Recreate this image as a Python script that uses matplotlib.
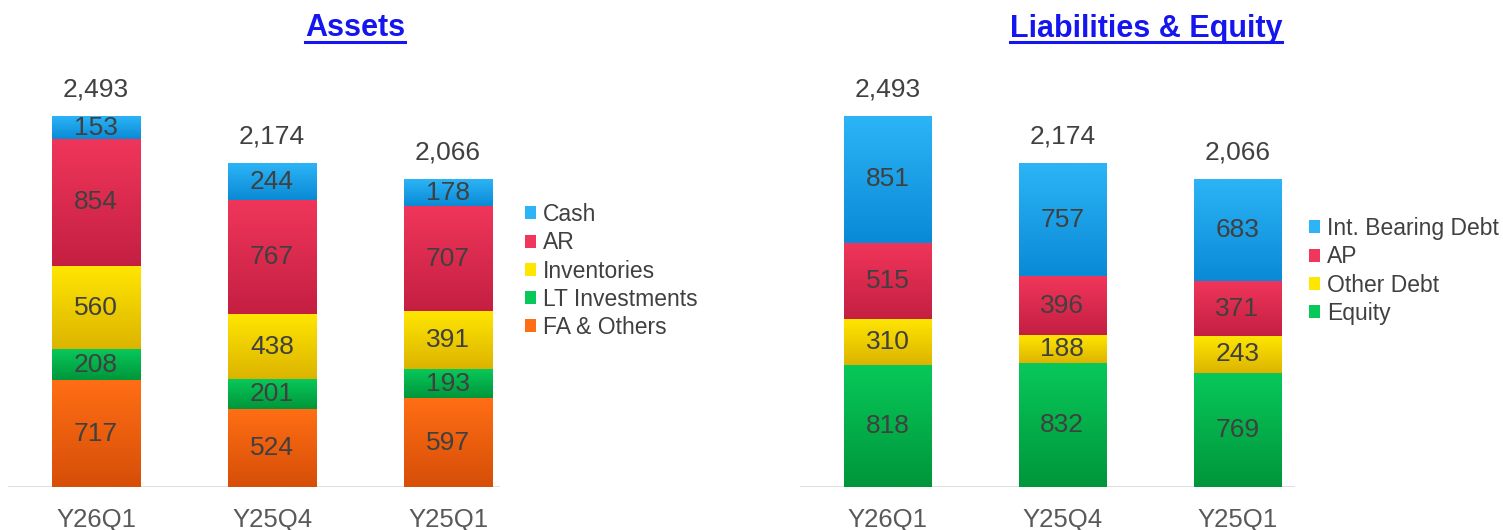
import matplotlib
matplotlib.use("Agg")
import matplotlib.pyplot as plt
import numpy as np
from matplotlib.patches import Patch
from matplotlib.colors import to_rgb
from matplotlib.lines import Line2D

plt.rcParams['font.family'] = ['Liberation Sans', 'DejaVu Sans']

# ---------------- data ----------------
periods = ["Y26Q1", "Y25Q4", "Y25Q1"]

asset_names = ["FA & Others", "LT Investments", "Inventories", "AR", "Cash"]
fa_others = [717, 524, 597]
lt_invest = [208, 201, 193]
inventories = [560, 438, 391]
ar = [854, 767, 707]
cash = [153, 244, 178]
asset_totals = [2493, 2174, 2066]

liab_names = ["Equity", "Other Debt", "AP", "Int. Bearing Debt"]
equity = [818, 832, 769]
other_debt = [310, 188, 243]
ap = [515, 396, 371]
ib_debt = [851, 757, 683]
liab_totals = [2493, 2174, 2066]

# gradient colours (top, bottom)
C_BLUE = ("#2cb4f6", "#0a8ad6")
C_RED = ("#f0365a", "#c41f42")
C_YEL = ("#ffe600", "#dcb400")
C_GRN = ("#08c85a", "#00963a")
C_ORG = ("#ff6e14", "#d64e08")

TXT = "#404040"
NUM_FS = 19

W, H = 1503, 530
fig = plt.figure(figsize=(W / 100, H / 100), dpi=100)


def px_axes(x0, x1, ybase, ytop):
    return fig.add_axes([x0 / W, (H - ybase) / H, (x1 - x0) / W, (ybase - ytop) / H])


def grad_fill(ax, patch, cols):
    x, y = patch.get_x(), patch.get_y()
    w, h = patch.get_width(), patch.get_height()
    top = np.array(to_rgb(cols[0]))
    bot = np.array(to_rgb(cols[1]))
    t = np.linspace(0, 1, 64)[:, None]
    img = top * (1 - t) + bot * t  # row 0 = top
    img = img[:, None, :]
    ax.imshow(img, extent=(x, x + w, y, y + h), origin='upper', aspect='auto',
              interpolation='bilinear', zorder=2)


def draw_stack(ax, series, colors, totals, xlim):
    xs = np.arange(len(periods))
    bottom = np.zeros(len(periods))
    for vals, cols in zip(series, colors):
        bars = ax.bar(xs, vals, 0.5, bottom=bottom, color='none', edgecolor='none', zorder=3)
        for b, v in zip(bars, vals):
            grad_fill(ax, b, cols)
            ax.text(b.get_x() + b.get_width() / 2, b.get_y() + b.get_height() / 2,
                    f"{v:,}", ha='center', va='center', fontsize=NUM_FS, color=TXT, zorder=4)
        bottom = bottom + np.array(vals)
    for x, top, tot in zip(xs, bottom, totals):
        ax.text(x, top + 180, f"{tot:,}", ha='center', va='center', fontsize=NUM_FS, color=TXT)
    ax.set_xlim(*xlim)
    ax.set_ylim(0, 3000)
    for s in ax.spines.values():
        s.set_visible(False)
    ax.axhline(0, color="#d9d9d9", lw=1.2, zorder=1)
    ax.set_yticks([])
    ax.set_xticks(xs)
    ax.set_xticklabels(periods, fontsize=18.5, color="#595959")
    ax.tick_params(axis='x', length=0, pad=15)


axL = px_axes(8, 500, 487, 40.6)
draw_stack(axL, [fa_others, lt_invest, inventories, ar, cash],
           [C_ORG, C_GRN, C_YEL, C_RED, C_BLUE], asset_totals, (-0.5, 2.295))

axR = px_axes(800, 1295, 487, 40.6)
draw_stack(axR, [equity, other_debt, ap, ib_debt],
           [C_GRN, C_YEL, C_RED, C_BLUE], liab_totals, (-0.5, 2.33))


# legends
def legend(names, colors, x, y):
    handles = [Patch(facecolor=c[0], edgecolor='none') for c in colors]
    leg = fig.legend(handles[::-1], names[::-1], loc='upper left',
                     bbox_to_anchor=(x / W, 1 - y / H), frameon=False,
                     fontsize=16.5, handlelength=0.5, handleheight=0.5,
                     handletextpad=0.3, labelspacing=0.23, borderaxespad=0, borderpad=0)
    for t in leg.get_texts():
        t.set_color(TXT)


legend(asset_names, [C_ORG, C_GRN, C_YEL, C_RED, C_BLUE], 525, 203)
legend(liab_names, [C_GRN, C_YEL, C_RED, C_BLUE], 1309, 217)

# titles with underline
titles = [("Assets", 355), ("Liabilities & Equity", 1146)]
title_objs = []
for txt, xc in titles:
    t = fig.text(xc / W, 1 - 28.5 / H, txt, ha='center', va='center', fontsize=22,
                 fontweight='bold', color="#1515f0")
    title_objs.append(t)

fig.canvas.draw()
r = fig.canvas.get_renderer()
for t in title_objs:
    bb = t.get_window_extent(r)
    yline = bb.y0 + 1.5
    fig.add_artist(Line2D([bb.x0 / W, bb.x1 / W], [yline / H, yline / H],
                          transform=fig.transFigure, color="#1515f0", lw=2.2))

fig.savefig("out.png", dpi=100)
